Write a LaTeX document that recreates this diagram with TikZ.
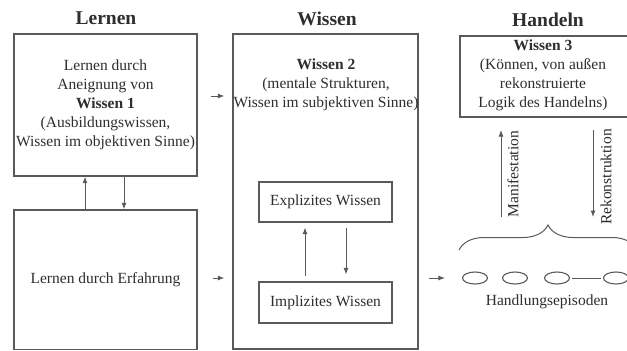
\documentclass[tikz,border=0pt]{standalone}
\usepackage{fontspec}
\setmainfont{Liberation Serif}
\usetikzlibrary{arrows.meta,shapes.geometric,decorations.pathreplacing}
\definecolor{txt}{HTML}{2E2E2E}
\definecolor{ln}{HTML}{5A5A5A}
\begin{document}
\begin{tikzpicture}[x=1pt,y=-1pt,
  every node/.style={text=txt},
  body/.style={font=\fontsize{15.5}{19}\selectfont, align=center},
  ttl/.style={font=\fontsize{19.5}{22}\selectfont\bfseries},
  box/.style={draw=ln, line width=1.3pt, inner sep=0pt, body},
  ibox/.style={draw=ln, line width=1.2pt, inner sep=0pt, body},
  arr/.style={draw=ln, line width=0.9pt, -{Latex[length=6.5pt,width=5pt]}},
  epi/.style={draw=ln, line width=1.1pt, ellipse, minimum width=25pt, minimum height=12pt, inner sep=0pt}]
\path[use as bounding box, clip] (0,0) rectangle (627,351);
\fill[white] (0,0) rectangle (627,351);

% titles
\node[ttl] (tL) at (106,18) {Lernen};
\node[ttl] (tW) at (327,19) {Wissen};
\node[ttl] (tH) at (548,20) {Handeln};

% left column
\node[box, minimum width=183pt, minimum height=142pt] (L1) at (105.5,105)
  {Lernen durch\\Aneignung von\\\textbf{Wissen 1}\\(Ausbildungswissen,\\Wissen im objektiven Sinne)};
\node[box, minimum width=183pt, minimum height=139.5pt] (L2) at (105.5,279.75)
  {Lernen durch Erfahrung};
\coordinate (upx) at (85,0);
\coordinate (dnx) at (124,0);
\draw[arr] (L2.north -| upx) -- (L1.south -| upx);
\draw[arr] (L1.south -| dnx) -- (L2.north -| dnx);

% middle column
\node[box, minimum width=185pt, minimum height=315pt] (W) at (325.5,191.5) {};
\node[body] (Wt) at (326,85) {\textbf{Wissen 2}\\(mentale Strukturen,\\Wissen im subjektiven Sinne)};
\node[ibox, minimum width=133pt, minimum height=40pt] (E) at (325.5,202) {Explizites Wissen};
\node[ibox, minimum width=133pt, minimum height=41pt] (I) at (325.5,302.5) {Implizites Wissen};
\coordinate (eu) at (305,0);
\coordinate (ed) at (346,0);
\draw[arr, shorten <=5pt, shorten >=5pt] (I.north -| eu) -- (E.south -| eu);
\draw[arr, shorten <=5pt, shorten >=7pt] (E.south -| ed) -- (I.north -| ed);

% arrows into Wissen
\coordinate (a1) at (0,96);
\coordinate (a2) at (0,278);
\draw[arr, shorten <=13pt, shorten >=8pt] (L1.east |- a1) -- (W.west |- a1);
\draw[arr, shorten <=15pt, shorten >=8pt] (L2.east |- a2) -- (W.west |- a2);

% right column
\node[body] (H) at (543,75) {\textbf{Wissen 3}\\(Können, von außen\\rekonstruierte\\Logik des Handelns)};
\draw[ln, line width=1.3pt] (650,36) -| (460,117) -- (650,117);

\coordinate (m1) at (501,217);
\coordinate (m2) at (501,130);
\coordinate (r1) at (593,130);
\coordinate (r2) at (593,217);
\draw[arr] (m1) -- (m2);
\draw[arr] (r1) -- (r2);
\node[body, rotate=90] (lm) at (513,174) {Manifestation};
\node[body, rotate=90] (lr) at (606,177) {Rekonstruktion};

\draw[ln, line width=1pt, decorate, decoration={brace, amplitude=25pt}] (459,250) -- (637,250);

\node[epi] (e1) at (475,278) {};
\node[epi] (e2) at (515,278) {};
\node[epi] (e3) at (557,278) {};
\node[epi] (e4) at (616,278) {};
\draw[ln, line width=1pt, shorten <=2pt, shorten >=2pt] (e3.east) -- (e4.west);
\draw[arr, shorten <=10pt, shorten >=17pt] (W.east |- e1) -- (e1.west);
\node[body] (hl) at (547,302) {Handlungsepisoden};
\end{tikzpicture}
\end{document}
